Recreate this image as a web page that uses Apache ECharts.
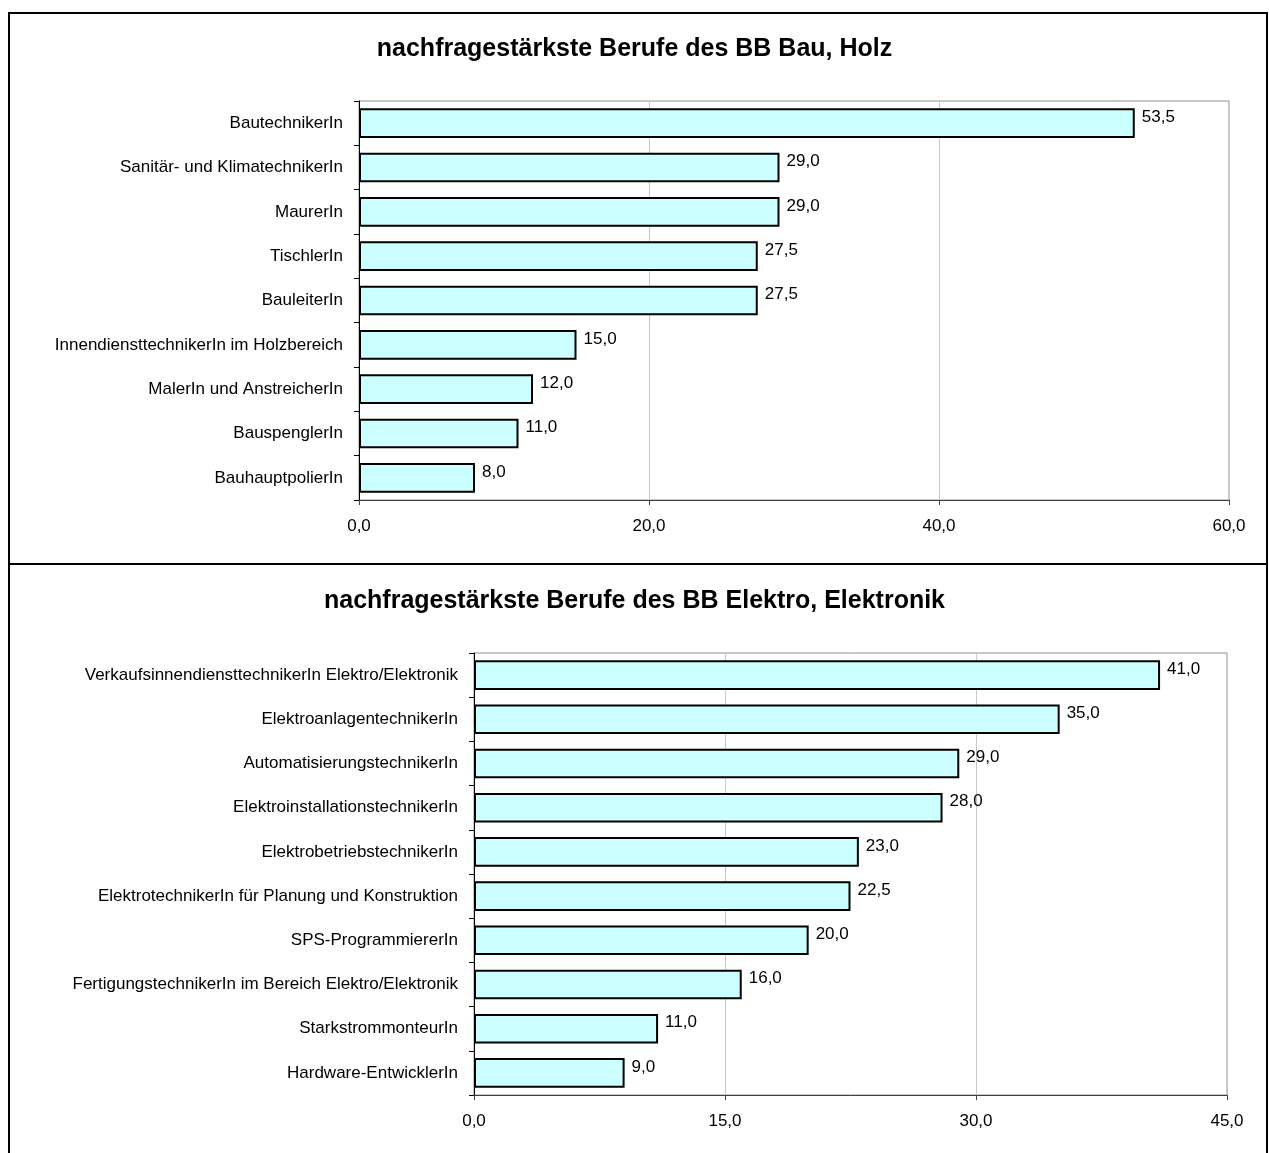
<!DOCTYPE html>
<html>
<head>
<meta charset="utf-8">
<script src="https://cdn.jsdelivr.net/npm/echarts@6/dist/echarts.min.js"></script>
<style>
  html, body { margin: 0; padding: 0; background: #fff; }
  #container { width: 1269px; height: 1153px; }
</style>
</head>
<body>
<div id="container"></div>
<script>
var bauCategories = [
  "BautechnikerIn",
  "Sanitär- und KlimatechnikerIn",
  "MaurerIn",
  "TischlerIn",
  "BauleiterIn",
  "InnendiensttechnikerIn im Holzbereich",
  "MalerIn und AnstreicherIn",
  "BauspenglerIn",
  "BauhauptpolierIn"
];
var bauValues = [53.5, 29.0, 29.0, 27.5, 27.5, 15.0, 12.0, 11.0, 8.0];

var elektroCategories = [
  "VerkaufsinnendiensttechnikerIn Elektro/Elektronik",
  "ElektroanlagentechnikerIn",
  "AutomatisierungstechnikerIn",
  "ElektroinstallationstechnikerIn",
  "ElektrobetriebstechnikerIn",
  "ElektrotechnikerIn für Planung und Konstruktion",
  "SPS-ProgrammiererIn",
  "FertigungstechnikerIn im Bereich Elektro/Elektronik",
  "StarkstrommonteurIn",
  "Hardware-EntwicklerIn"
];
var elektroValues = [41.0, 35.0, 29.0, 28.0, 23.0, 22.5, 20.0, 16.0, 11.0, 9.0];

var titles = [
  "nachfragestärkste Berufe des BB Bau, Holz",
  "nachfragestärkste Berufe des BB Elektro, Elektronik"
];

var dom = document.getElementById("container");
var myChart = echarts.init(dom, null, { renderer: "canvas" });

var fontFamily = "Liberation Sans, Arial, sans-serif";

function fmt(v) {
  return Number(v).toFixed(1).replace(".", ",");
}

function xAxisCfg(gridIndex, max, interval) {
  return {
    type: "value",
    gridIndex: gridIndex,
    min: 0,
    max: max,
    interval: interval,
    axisLine: { show: true, lineStyle: { color: "#404040", width: 1 } },
    axisTick: { show: true, length: 5, lineStyle: { color: "#404040" } },
    axisLabel: {
      formatter: fmt,
      color: "#000",
      fontSize: 17,
      fontFamily: fontFamily,
      margin: 18
    },
    splitLine: { show: true, lineStyle: { color: "#c8c8c8", width: 1 } }
  };
}

function yAxisCfg(gridIndex, cats) {
  return {
    type: "category",
    gridIndex: gridIndex,
    data: cats,
    inverse: true,
    axisLine: { show: true, lineStyle: { color: "#000", width: 1 } },
    axisTick: { show: true, length: 5, lineStyle: { color: "#000" } },
    axisLabel: {
      color: "#000",
      fontSize: 17,
      fontFamily: fontFamily,
      margin: 16
    },
    splitLine: { show: false }
  };
}

function seriesCfg(idx, values) {
  return {
    type: "bar",
    xAxisIndex: idx,
    yAxisIndex: idx,
    data: values,
    barCategoryGap: "33%",
    itemStyle: { color: "#CCFFFF", borderColor: "#000", borderWidth: 2 },
    label: {
      show: true,
      position: "right",
      distance: 7,
      formatter: function (p) { return fmt(p.value); },
      color: "#000",
      fontSize: 17,
      fontFamily: fontFamily,
      offset: [0, -6]
    },
    animation: false
  };
}

var option = {
  backgroundColor: "#fff",
  animation: false,
  title: [
    {
      text: titles[0],
      left: "center",
      top: 32,
      textStyle: { fontSize: 25, fontWeight: "bold", color: "#000", fontFamily: fontFamily }
    },
    {
      text: titles[1],
      left: "center",
      top: 584,
      textStyle: { fontSize: 25, fontWeight: "bold", color: "#000", fontFamily: fontFamily }
    }
  ],
  graphic: [
    {
      type: "rect",
      shape: { x: 9, y: 13, width: 1258, height: 551 },
      style: { fill: "none", stroke: "#000", lineWidth: 2 },
      silent: true
    },
    {
      type: "rect",
      shape: { x: 9, y: 564, width: 1258, height: 600 },
      style: { fill: "none", stroke: "#000", lineWidth: 2 },
      silent: true
    }
  ],
  grid: [
    {
      left: 359, top: 101, width: 870, height: 399,
      show: true, borderColor: "#909090", borderWidth: 1, backgroundColor: "transparent",
      containLabel: false
    },
    {
      left: 474, top: 653, width: 753, height: 442,
      show: true, borderColor: "#909090", borderWidth: 1, backgroundColor: "transparent",
      containLabel: false
    }
  ],
  xAxis: [xAxisCfg(0, 60, 20), xAxisCfg(1, 45, 15)],
  yAxis: [yAxisCfg(0, bauCategories), yAxisCfg(1, elektroCategories)],
  series: [seriesCfg(0, bauValues), seriesCfg(1, elektroValues)]
};

myChart.setOption(option);
window.addEventListener("resize", myChart.resize);
</script>
</body>
</html>
